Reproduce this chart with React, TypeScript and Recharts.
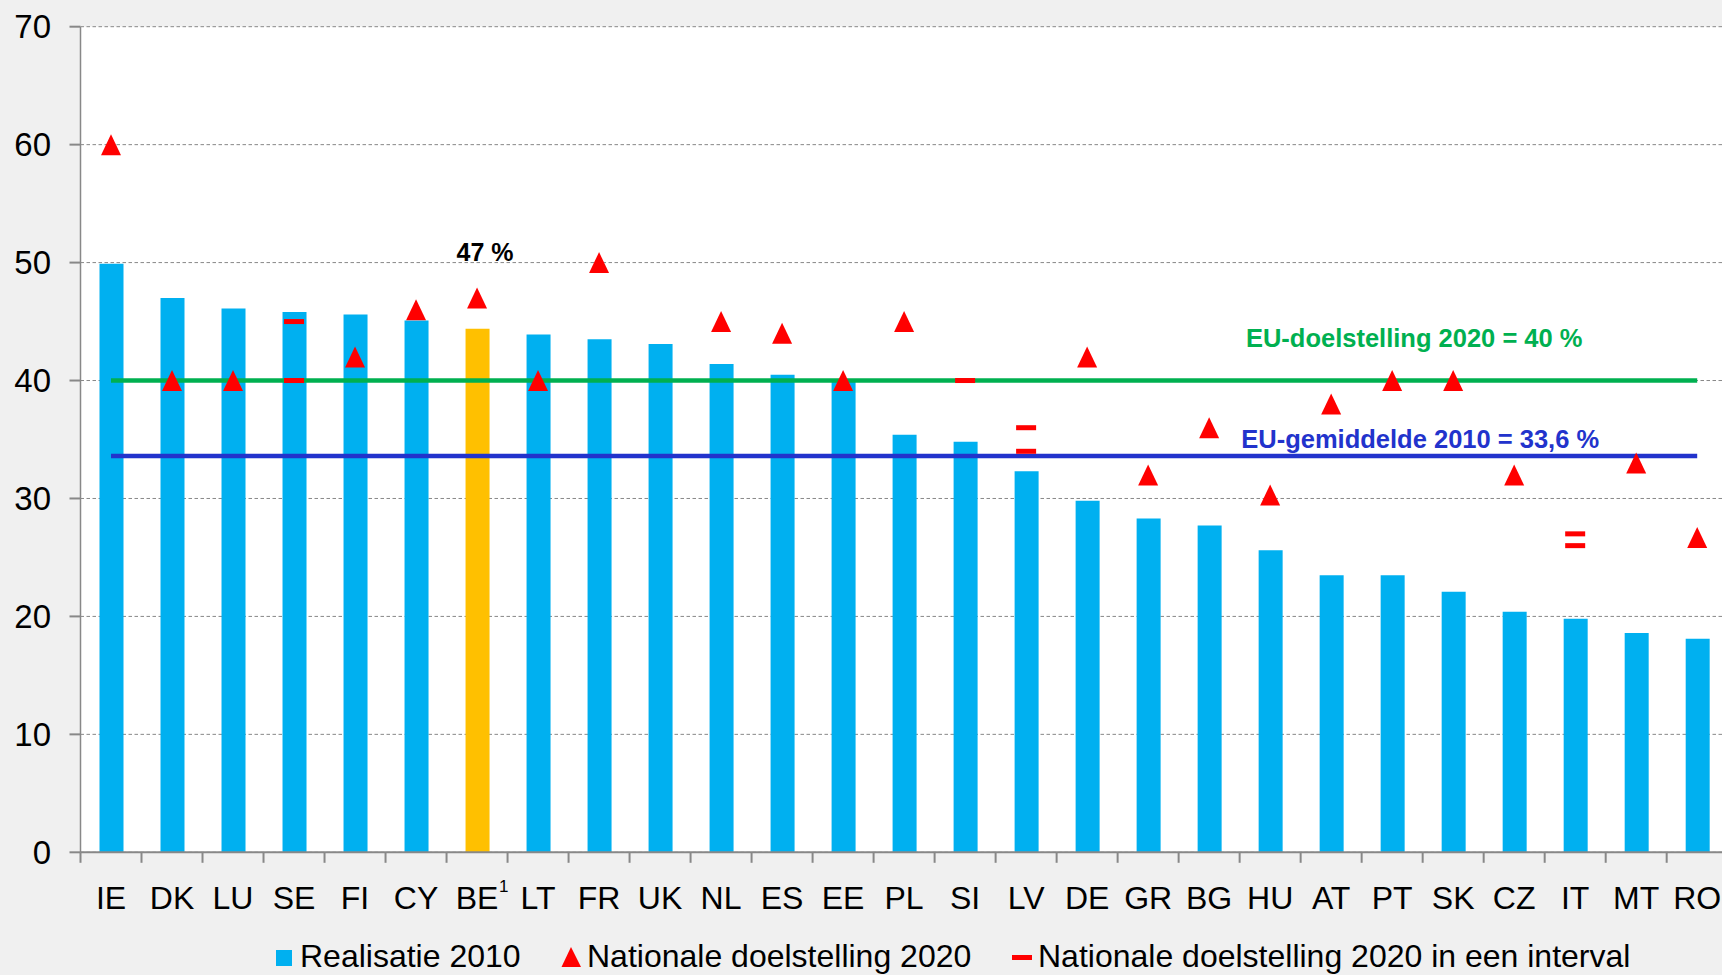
import React from 'react';
import {
  ComposedChart,
  Bar,
  Cell,
  Scatter,
  XAxis,
  YAxis,
  CartesianGrid,
  ReferenceLine,
  ReferenceDot,
  Legend,
} from 'recharts';

// Landen, gesorteerd op realisatie 2010
const countries = [
  'IE', 'DK', 'LU', 'SE', 'FI', 'CY', 'BE', 'LT', 'FR', 'UK', 'NL', 'ES', 'EE', 'PL',
  'SI', 'LV', 'DE', 'GR', 'BG', 'HU', 'AT', 'PT', 'SK', 'CZ', 'IT', 'MT', 'RO',
];
const realisatie2010 = [
  49.9, 47.0, 46.1, 45.8, 45.6, 45.1, 44.4, 43.9, 43.5, 43.1, 41.4, 40.5, 40.0, 35.4,
  34.8, 32.3, 29.8, 28.3, 27.7, 25.6, 23.5, 23.5, 22.1, 20.4, 19.8, 18.6, 18.1,
];
const nationaleDoelstelling2020 = [
  60, 40, 40, null, 42, 46, 47, 40, 50, null, 45, 44, 40, 45,
  null, null, 42, 32, 36, 30.3, 38, 40, 40, 32, null, 33, 26.7,
];
// Intervaldoelstellingen (onder- en bovengrens)
const intervalLaag = [
  null, null, null, 40, null, null, null, null, null, null, null, null, null, null,
  40, 34, null, null, null, null, null, null, null, null, 26, null, null,
];
const intervalHoog = [
  null, null, null, 45, null, null, null, null, null, null, null, null, null, null,
  null, 36, null, null, null, null, null, null, null, null, 27, null, null,
];
const yTicks = [0, 10, 20, 30, 40, 50, 60, 70];
const euDoelstelling2020 = 40;
const euGemiddelde2010 = 33.6;
const highlightCountry = 'BE';

const data = countries.map((country, i) => ({
  country,
  realisatie: realisatie2010[i],
  doel: nationaleDoelstelling2020[i],
  laag: intervalLaag[i],
  hoog: intervalHoog[i],
}));

const FONT = '"Liberation Sans", Arial, sans-serif';
const BLUE = '#00b0f0';
const YELLOW = '#ffc000';
const RED = '#ff0000';
const GREEN = '#00b050';
const NAVY = '#2233cc';
const GREY = '#888888';

const WIDTH = 1740;
const HEIGHT = 975;
const PLOT_LEFT = 80.5;
const PLOT_RIGHT = 1727.7;
const BAND = (PLOT_RIGHT - PLOT_LEFT) / countries.length;

const Triangle = (props: any) => {
  const { cx, cy, payload } = props;
  if (payload?.doel == null || cy == null || isNaN(cy)) return <g />;
  return (
    <polygon
      points={`${cx},${cy - 10.5} ${cx - 10},${cy + 10.5} ${cx + 10},${cy + 10.5}`}
      fill={RED}
    />
  );
};

const makeDash = (key: 'laag' | 'hoog') => (props: any) => {
  const { cx, cy, payload } = props;
  if (payload?.[key] == null || cy == null || isNaN(cy)) return <g />;
  return <rect x={cx - 10} y={cy - 2.5} width={20} height={5} fill={RED} />;
};

const CountryTick = (props: any) => {
  const { x, y, payload } = props;
  const left = x - BAND / 2;
  return (
    <g>
      <line x1={left} x2={left} y1={y} y2={y + 10.5} stroke={GREY} strokeWidth={2} />
      <text x={x} y={y + 57} textAnchor="middle" fontSize={32} fill="#000" fontFamily={FONT}>
        {payload.value}
      </text>
      {payload.value === highlightCountry && (
        <text x={x + 22} y={y + 40} fontSize={17} fill="#000" fontFamily={FONT}>
          1
        </text>
      )}
    </g>
  );
};

const LegendContent = () => (
  <svg width={1722} height={40} style={{ display: 'block' }}>
    <rect x={276} y={15} width={16} height={16} fill={BLUE} />
    <text x={300} y={31.5} fontSize={32} fill="#000" fontFamily={FONT}>
      Realisatie 2010
    </text>
    <polygon points="571,12 561.5,32 581,32" fill={RED} />
    <text x={587} y={31.5} fontSize={32} fill="#000" fontFamily={FONT}>
      Nationale doelstelling 2020
    </text>
    <rect x={1012} y={20} width={20} height={5} fill={RED} />
    <text x={1038} y={31.5} fontSize={32} fill="#000" fontFamily={FONT}>
      Nationale doelstelling 2020 in een interval
    </text>
  </svg>
);

const lineLabel = (text: string, color: string, fromRight: number, dy: number) => (props: any) => {
  const vb = props.viewBox || {};
  return (
    <text
      x={vb.x + vb.width - fromRight}
      y={vb.y + dy}
      textAnchor="middle"
      fontSize={25.5}
      fontWeight="bold"
      fill={color}
      fontFamily={FONT}
    >
      {text}
    </text>
  );
};

export default function App() {
  return (
    <div
      style={{
        position: 'absolute',
        left: 0,
        top: 0,
        width: 1722,
        height: 975,
        overflow: 'hidden',
        background: '#f0f0f0',
        fontFamily: FONT,
      }}
    >
      <ComposedChart
        width={WIDTH}
        height={HEIGHT}
        data={data}
        margin={{ top: 26.7, right: WIDTH - PLOT_RIGHT, bottom: 62.7, left: 0 }}
      >
        <CartesianGrid vertical={false} stroke={GREY} strokeDasharray="3.5 2.5" fill="#ffffff" />
        <XAxis
          dataKey="country"
          height={60}
          tickSize={0}
          tickMargin={0}
          tick={<CountryTick />}
          interval={0}
          axisLine={{ stroke: GREY, strokeWidth: 2 }}
          tickLine={false}
        />
        <YAxis
          width={PLOT_LEFT}
          domain={[0, 70]}
          ticks={yTicks}
          tickSize={11}
          tickMargin={18.5}
          axisLine={{ stroke: GREY, strokeWidth: 1.5 }}
          tickLine={{ stroke: GREY, strokeWidth: 2 }}
          tick={{ fontSize: 33, fill: '#000', fontFamily: FONT }}
        />
        <Bar dataKey="realisatie" barSize={24} isAnimationActive={false}>
          {data.map((d) => (
            <Cell key={d.country} fill={d.country === highlightCountry ? YELLOW : BLUE} />
          ))}
        </Bar>
        <ReferenceLine
          segment={[
            { x: countries[0], y: euDoelstelling2020 },
            { x: countries[countries.length - 1], y: euDoelstelling2020 },
          ]}
          stroke={GREEN}
          strokeWidth={4.5}
          label={lineLabel(`EU-doelstelling 2020 = ${euDoelstelling2020} %`, GREEN, 283, -33.8)}
        />
        <ReferenceLine
          segment={[
            { x: countries[0], y: euGemiddelde2010 },
            { x: countries[countries.length - 1], y: euGemiddelde2010 },
          ]}
          stroke={NAVY}
          strokeWidth={4.5}
          label={lineLabel(
            `EU-gemiddelde 2010 = ${String(euGemiddelde2010).replace('.', ',')} %`,
            NAVY,
            277,
            -8.4
          )}
        />
        <Scatter dataKey="doel" shape={<Triangle />} isAnimationActive={false} />
        <Scatter dataKey="laag" shape={makeDash('laag')} isAnimationActive={false} />
        <Scatter dataKey="hoog" shape={makeDash('hoog')} isAnimationActive={false} />
        <ReferenceDot
          x={highlightCountry}
          y={nationaleDoelstelling2020[countries.indexOf(highlightCountry)] as number}
          r={0}
          fill="none"
          stroke="none"
          label={(p: any) => (
            <text
              x={p.viewBox.x + 8}
              y={p.viewBox.y - 37}
              textAnchor="middle"
              fontSize={25}
              fontWeight="bold"
              fill="#000"
              fontFamily={FONT}
            >
              {`${nationaleDoelstelling2020[countries.indexOf(highlightCountry)]} %`}
            </text>
          )}
        />
        <Legend
          verticalAlign="middle"
          align="center"
          wrapperStyle={{ left: 0, top: 935, width: 1722, height: 40 }}
          content={<LegendContent />}
        />
      </ComposedChart>
    </div>
  );
}
